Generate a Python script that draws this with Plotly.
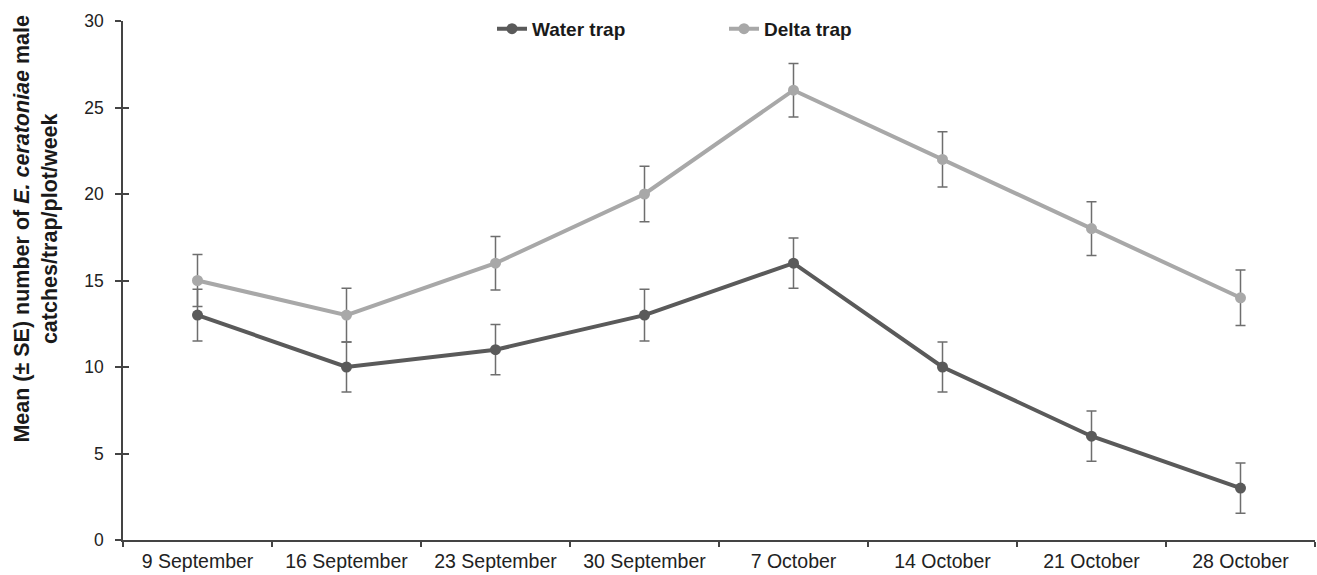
import plotly.graph_objects as go

categories = ["9 September", "16 September", "23 September", "30 September",
              "7 October", "14 October", "21 October", "28 October"]
water = [13, 10, 11, 13, 16, 10, 6, 3]
water_se = [1.5, 1.45, 1.45, 1.5, 1.45, 1.45, 1.45, 1.45]
delta = [15, 13, 16, 20, 26, 22, 18, 14]
delta_se = [1.5, 1.55, 1.55, 1.6, 1.55, 1.6, 1.55, 1.6]
y_ticks = [0, 5, 10, 15, 20, 25, 30]

WATER_C = "#5a5a5a"
DELTA_C = "#a8a8a8"
ERR_C = "#6e6e6e"
FONT = "Liberation Sans, Arial, sans-serif"

fig = go.Figure()
fig.add_trace(go.Scatter(
    x=categories, y=water, name="Water trap", mode="lines+markers",
    line=dict(color=WATER_C, width=4), marker=dict(color=WATER_C, size=11),
    error_y=dict(type="data", array=water_se, visible=True, color=ERR_C,
                 thickness=1.5, width=5),
    legend="legend"))
fig.add_trace(go.Scatter(
    x=categories, y=delta, name="Delta trap", mode="lines+markers",
    line=dict(color=DELTA_C, width=4), marker=dict(color=DELTA_C, size=11),
    error_y=dict(type="data", array=delta_se, visible=True, color=ERR_C,
                 thickness=1.5, width=5),
    legend="legend2"))
# invisible trace to drive the overlay axis carrying inner ticks
fig.add_trace(go.Scatter(x=[categories[0]], y=[0], yaxis="y2", mode="markers",
                         marker=dict(opacity=0), showlegend=False, hoverinfo="skip"))

legend_font = dict(size=19, color="#1a1a1a", family=FONT, weight="bold")

fig.update_layout(
    width=1317, height=575,
    margin=dict(l=123, r=2, t=21, b=35),
    paper_bgcolor="white", plot_bgcolor="white",
    font=dict(family=FONT, color="#1a1a1a"),
    xaxis=dict(type="category", categoryorder="array", categoryarray=categories,
               range=[-0.5, 7.5], showgrid=False, zeroline=False,
               showline=True, linecolor="#444", linewidth=1.5,
               ticks="outside", tickson="boundaries", ticklen=5, tickwidth=1.5,
               tickcolor="#444", tickfont=dict(size=19.5, color="#222"),
               ticklabelstandoff=3),
    yaxis=dict(range=[0, 30], tickvals=y_ticks, showgrid=False, zeroline=False,
               showline=True, linecolor="#444", linewidth=1.5,
               ticks="outside", ticklen=6, tickwidth=1.5, tickcolor="#444",
               tickfont=dict(size=17.5, color="#222"), ticklabelstandoff=8),
    yaxis2=dict(range=[0, 30], tickvals=y_ticks, overlaying="y", side="left",
                showgrid=False, zeroline=False, showline=False,
                ticks="inside", ticklen=6, tickwidth=1.5, tickcolor="#444",
                showticklabels=False),
    legend=dict(orientation="h", x=(492 - 123) / 1192, y=0.985, xanchor="left",
                yanchor="middle", font=legend_font, bgcolor="rgba(0,0,0,0)"),
    legend2=dict(orientation="h", x=(724 - 123) / 1192, y=0.985, xanchor="left",
                 yanchor="middle", font=legend_font, bgcolor="rgba(0,0,0,0)"),
    annotations=[dict(
        text="<b>Mean (± SE) number of <i>E. ceratoniae</i> male<br>catches/trap/plot/week</b>",
        xref="paper", yref="paper", x=-0.073, y=0.60, xanchor="center", yanchor="middle",
        textangle=-90, showarrow=False, font=dict(size=21.5, color="#1a1a1a", family=FONT))],
)

fig.write_html("out.html")
